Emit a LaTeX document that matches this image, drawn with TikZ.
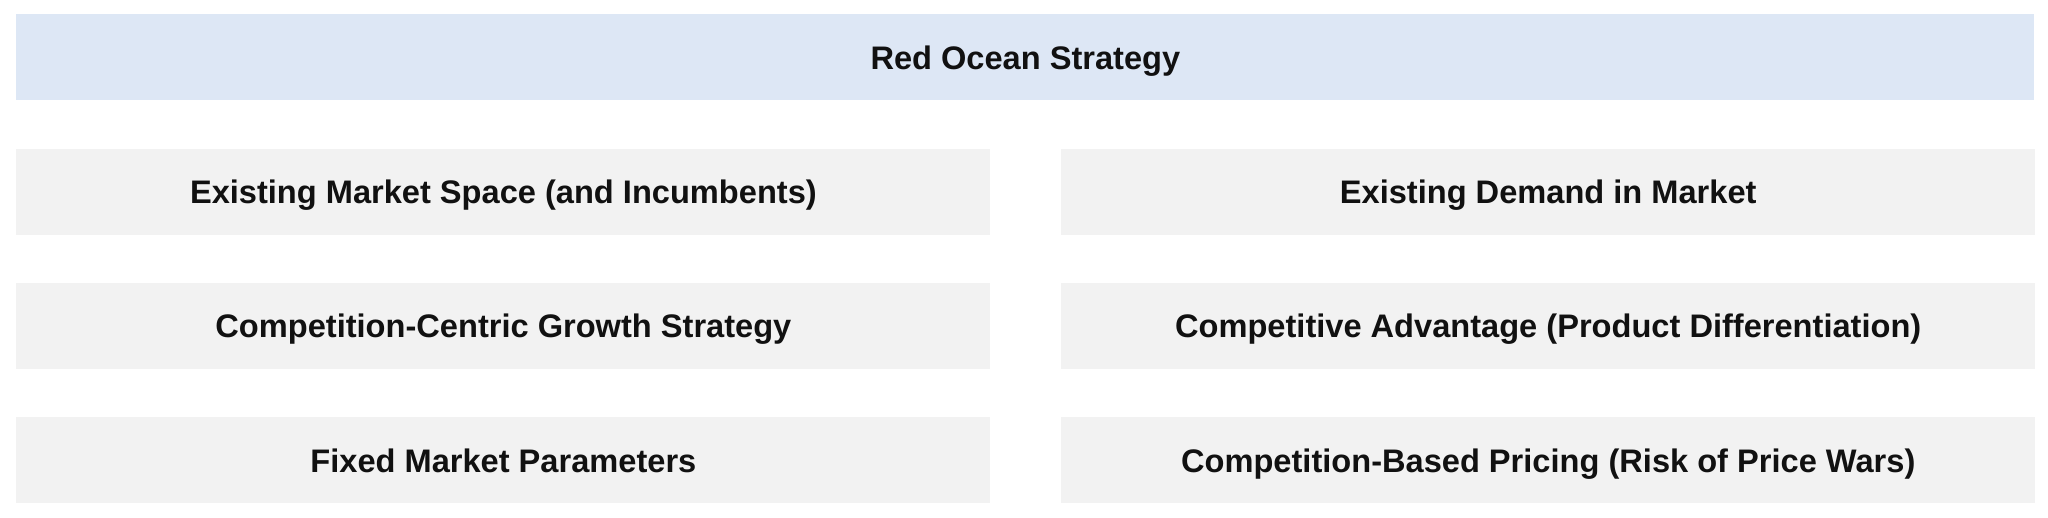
\documentclass[tikz,border=0pt]{standalone}
\usepackage{fontspec}
\setmainfont{Liberation Sans}
\usetikzlibrary{positioning}

\definecolor{barblue}{HTML}{DDE7F5}
\definecolor{boxgray}{HTML}{F2F2F2}
\definecolor{textdark}{HTML}{111111}

\begin{document}
\begin{tikzpicture}[%
		node distance=23.75pt and 35pt,
		every node/.style={%
			font=\bfseries\fontsize{16.3pt}{19pt}\selectfont,
			text=textdark,
			inner sep=0pt,
			text height=11.7pt,
			text depth=0pt,
			align=center
		},
		headbar/.style={%
			fill=barblue,
			minimum width=1009pt,
			minimum height=43pt
		},
		cellbox/.style={%
			fill=boxgray,
			minimum width=487pt,
			minimum height=43pt
		}
		]
		\useasboundingbox (-8pt,7pt) rectangle (1016pt,-252pt);
		
		\node[headbar, anchor=north west] (head) at (0,0)           {Red Ocean Strategy};
		\node[cellbox] (market) [below right=23.75pt and 0pt of head.south west] {Existing Market Space (and Incumbents)};
		\node[cellbox] (demand) [right=of market]                  {Existing Demand in Market};
		\node[cellbox] (growth) [below=of market]                  {Competition-Centric Growth Strategy};
		\node[cellbox] (advantage) [right=of growth]               {Competitive Advantage (Product Differentiation)};
		\node[cellbox] (params) [below=of growth]                  {Fixed Market Parameters};
		\node[cellbox] (pricing) [right=of params]                 {Competition-Based Pricing (Risk of Price Wars)};
		\end{tikzpicture}
\end{document}
